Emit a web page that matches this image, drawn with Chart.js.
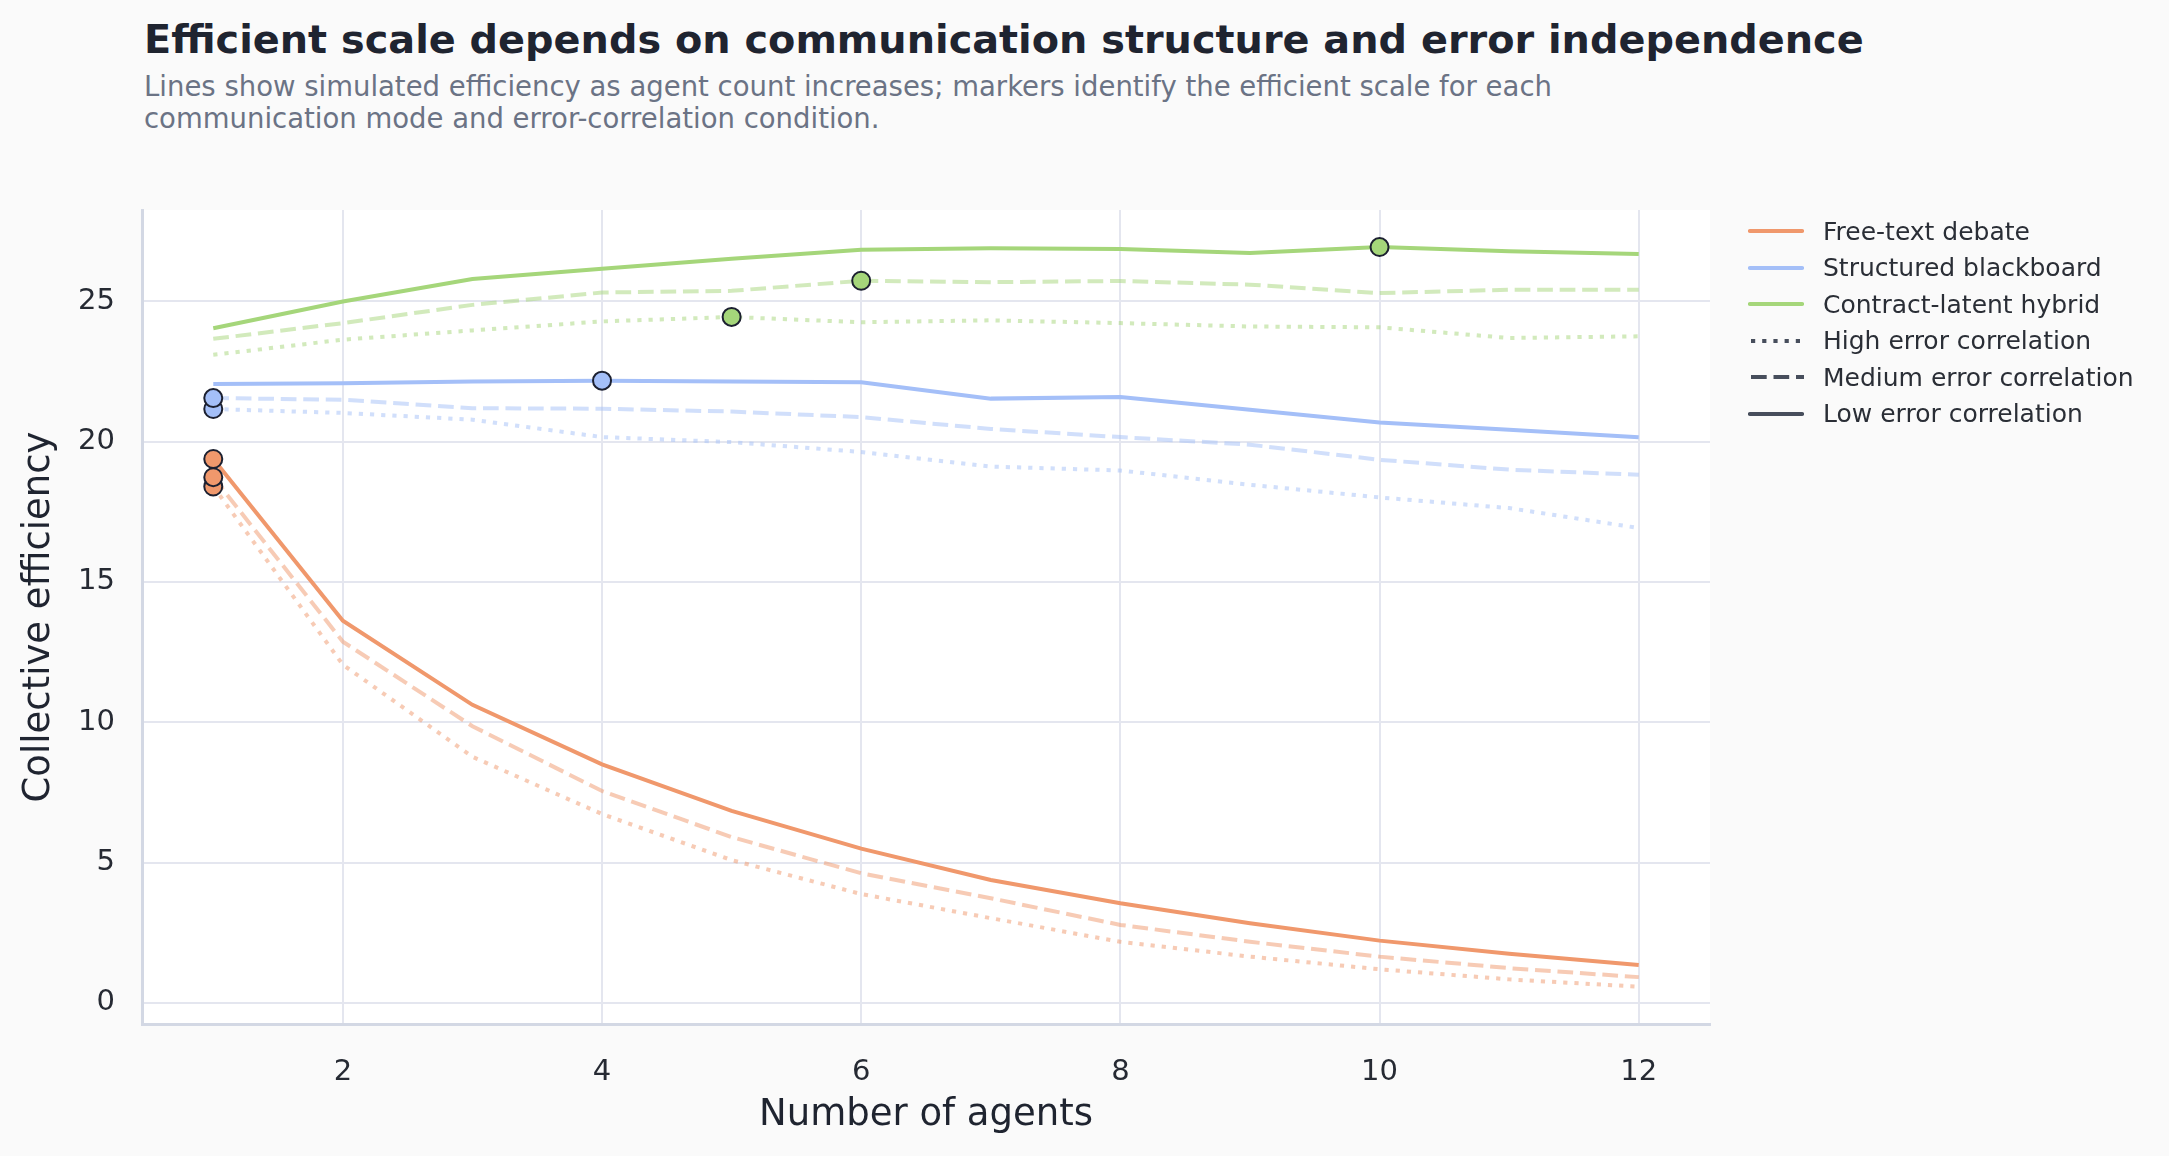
<!DOCTYPE html>
<html>
<head>
<meta charset="utf-8">
<script src="https://cdn.jsdelivr.net/npm/chart.js@4.4.1/dist/chart.umd.min.js"></script>
<style>
    html, body { margin: 0; padding: 0; background: #fafafa; }
    body { width: 2169px; height: 1156px; position: relative; overflow: hidden; font-family: "DejaVu Sans", sans-serif; }
    #myChart { position: absolute; left: 0; top: 0; }
    h1 { position: absolute; left: 144px; top: 19px; margin: 0; font-size: 39.8px; line-height: 40px; font-weight: bold; color: #1f2430; white-space: nowrap; }
    .sub { position: absolute; left: 144px; top: 70px; font-size: 27.5px; line-height: 32px; color: #6b7385; white-space: nowrap; }
    #legend { position: absolute; left: 1748px; top: 213px; }
    .item { height: 36.5px; display: flex; align-items: center; font-size: 25px; color: #2a2e36; white-space: nowrap; }
    .item svg { width: 56px; height: 10px; margin-right: 19px; }
</style>
</head>
<body>
<h1>Efficient scale depends on communication structure and error independence</h1>
<div class="sub">Lines show simulated efficiency as agent count increases; markers identify the efficient scale for each<br>communication mode and error-correlation condition.</div>
<canvas id="myChart" width="2169" height="1156"></canvas>
<div id="legend"></div>
<script>
// data
const agents = [1, 2, 3, 4, 5, 6, 7, 8, 9, 10, 11, 12];

const freeHigh = [18.40, 12.05, 8.77, 6.73, 5.09, 3.88, 3.02, 2.18, 1.65, 1.20, 0.84, 0.58];
const freeMed  = [18.73, 12.87, 9.86, 7.55, 5.91, 4.62, 3.73, 2.78, 2.18, 1.65, 1.24, 0.92];
const freeLow  = [19.38, 13.62, 10.62, 8.50, 6.84, 5.50, 4.38, 3.55, 2.84, 2.22, 1.75, 1.35];

const boardHigh = [21.16, 21.02, 20.78, 20.16, 19.98, 19.63, 19.11, 18.97, 18.46, 18.01, 17.63, 16.92];
const boardMed  = [21.55, 21.49, 21.19, 21.17, 21.07, 20.87, 20.45, 20.16, 19.89, 19.35, 19.00, 18.82];
const boardLow  = [22.05, 22.08, 22.14, 22.17, 22.14, 22.11, 21.53, 21.59, 21.13, 20.68, 20.42, 20.15];

const hybridHigh = [23.09, 23.63, 23.96, 24.28, 24.44, 24.25, 24.32, 24.22, 24.10, 24.07, 23.69, 23.75];
const hybridMed  = [23.66, 24.22, 24.87, 25.31, 25.37, 25.73, 25.68, 25.72, 25.59, 25.29, 25.41, 25.41];
const hybridLow  = [24.04, 24.99, 25.79, 26.16, 26.51, 26.83, 26.89, 26.86, 26.72, 26.93, 26.78, 26.68];

// efficient scale (number of agents) for high / medium / low correlation
const freePeak = [1, 1, 1];
const boardPeak = [1, 1, 4];
const hybridPeak = [5, 6, 10];

const modes = ['Free-text debate', 'Structured blackboard', 'Contract-latent hybrid'];
const correlations = ['High error correlation', 'Medium error correlation', 'Low error correlation'];
const xTicks = [2, 4, 6, 8, 10, 12];
const yTicks = [0, 5, 10, 15, 20, 25];

const series = [
    [freeHigh, freeMed, freeLow],
    [boardHigh, boardMed, boardLow],
    [hybridHigh, hybridMed, hybridLow]
];
const peaks = [freePeak, boardPeak, hybridPeak];

const modeColors = [[240, 152, 108], [164, 191, 248], [165, 214, 122]];
const corrAlpha = [0.5, 0.5, 1];
const corrDash = [[4.2, 7], [15.7, 6.8], []];
const corrOrder = [4, 3, 2];

function rgba(c, a) {
    return 'rgba(' + c[0] + ',' + c[1] + ',' + c[2] + ',' + a + ')';
}

var datasets = [];
modes.forEach(function(mode, i) {
    correlations.forEach(function(corr, j) {
        datasets.push({
            type: 'line',
            label: mode + ' / ' + corr,
            data: agents.map(function(x, k) { return {x: x, y: series[i][j][k]}; }),
            borderColor: rgba(modeColors[i], corrAlpha[j]),
            borderDash: corrDash[j],
            borderWidth: 4,
            pointRadius: 0,
            tension: 0,
            order: corrOrder[j]
        });
    });
    datasets.push({
        type: 'scatter',
        label: mode + ' efficient scale',
        data: peaks[i].map(function(x, j) { return {x: x, y: series[i][j][agents.indexOf(x)]}; }),
        backgroundColor: rgba(modeColors[i], 1),
        borderColor: '#1c2030',
        borderWidth: 2,
        pointRadius: 9,
        order: 1
    });
});

// custom legend
var legend = document.getElementById('legend');
var legendRows = [];
modes.forEach(function(m, i) {
    legendRows.push({text: m, color: rgba(modeColors[i], 1), dash: '', cap: 'round'});
});
correlations.forEach(function(c, j) {
    legendRows.push({text: c, color: '#474e5c', dash: corrDash[j].join(','), cap: corrDash[j].length ? 'butt' : 'round'});
});
legendRows.forEach(function(r) {
    var row = document.createElement('div');
    row.className = 'item';
    row.innerHTML = '<svg viewBox="0 0 56 10"><line x1="' + (r.cap === 'round' ? 2 : 3) + '" y1="5" x2="' + (r.cap === 'round' ? 54 : 56) +
        '" y2="5" stroke="' + r.color + '" stroke-width="4.2" stroke-linecap="' + r.cap + '"' +
        (r.dash ? ' stroke-dasharray="' + r.dash + '"' : '') + '/></svg><span>' + r.text + '</span>';
    legend.appendChild(row);
});

var plotBg = {
    id: 'plotBg',
    beforeDraw: function(chart) {
        var a = chart.chartArea;
        chart.ctx.save();
        chart.ctx.fillStyle = '#ffffff';
        chart.ctx.fillRect(a.left, a.top, a.right - a.left, a.bottom - a.top);
        chart.ctx.restore();
    }
};

Chart.defaults.font.family = '"DejaVu Sans", sans-serif';

var ctx = document.getElementById('myChart');
var myChart = new Chart(ctx, {
    data: { datasets: datasets },
    plugins: [plotBg],
    options: {
        responsive: false,
        animation: false,
        devicePixelRatio: 1,
        layout: { padding: { left: 17, top: 210, right: 459, bottom: 18 } },
        plugins: {
            legend: { display: false },
            tooltip: { enabled: false }
        },
        scales: {
            x: {
                type: 'linear',
                min: 0.45,
                max: 12.55,
                afterBuildTicks: function(s) { s.ticks = xTicks.map(function(v) { return {value: v}; }); },
                afterFit: function(s) { s.height = 114; },
                grid: { color: '#e4e6ef', lineWidth: 2, drawTicks: false },
                border: { display: true, color: '#d3d8e4', width: 3 },
                ticks: { padding: 31, color: '#262a33', font: { size: 29 } },
                title: { display: true, text: 'Number of agents', color: '#1f2430', font: { size: 37 }, padding: 0 }
            },
            y: {
                type: 'linear',
                min: -0.75,
                max: 28.25,
                afterBuildTicks: function(s) { s.ticks = yTicks.map(function(v) { return {value: v}; }); },
                afterFit: function(s) { s.width = 125; },
                grid: { color: '#e4e6ef', lineWidth: 2, drawTicks: false },
                border: { display: true, color: '#d3d8e4', width: 3 },
                ticks: { padding: 27, color: '#262a33', font: { size: 29 } },
                title: { display: true, text: 'Collective efficiency', color: '#1f2430', font: { size: 37 }, padding: 0 }
            }
        }
    }
});
</script>
</body>
</html>
